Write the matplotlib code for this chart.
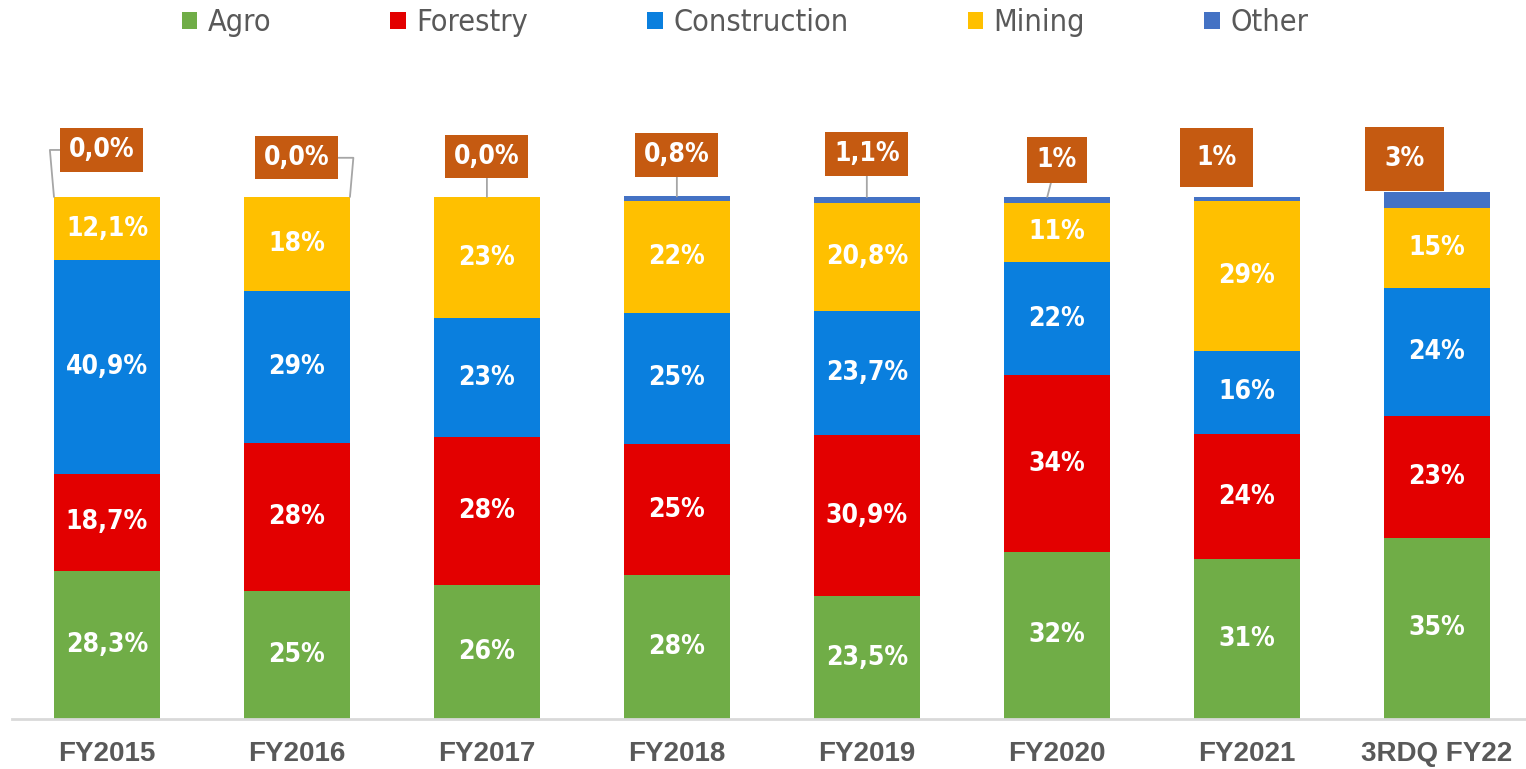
import matplotlib
matplotlib.use("Agg")
import matplotlib.pyplot as plt
import numpy as np

# categories and shares (%) per segment
periods = ["FY2015", "FY2016", "FY2017", "FY2018", "FY2019", "FY2020", "FY2021", "3RDQ FY22"]
agro = [28.3, 24.6, 25.7, 27.5, 23.5, 32.0, 30.6, 34.7]
forestry = [18.7, 28.3, 28.3, 25.2, 30.9, 33.8, 24.0, 23.4]
construction = [40.9, 29.1, 22.8, 25.1, 23.7, 21.7, 15.9, 24.4]
mining = [12.1, 18.0, 23.2, 21.5, 20.8, 11.4, 28.8, 15.3]
other = [0.0, 0.0, 0.0, 0.8, 1.1, 1.1, 0.7, 3.1]

# label texts as printed on the chart
agro_lbl = ["28,3%", "25%", "26%", "28%", "23,5%", "32%", "31%", "35%"]
forestry_lbl = ["18,7%", "28%", "28%", "25%", "30,9%", "34%", "24%", "23%"]
construction_lbl = ["40,9%", "29%", "23%", "25%", "23,7%", "22%", "16%", "24%"]
mining_lbl = ["12,1%", "18%", "23%", "22%", "20,8%", "11%", "29%", "15%"]
other_lbl = ["0,0%", "0,0%", "0,0%", "0,8%", "1,1%", "1%", "1%", "3%"]

series = [
    ("Agro", agro, agro_lbl, "#70AD47"),
    ("Forestry", forestry, forestry_lbl, "#E30000"),
    ("Construction", construction, construction_lbl, "#0A7FDE"),
    ("Mining", mining, mining_lbl, "#FFC000"),
    ("Other", other, None, "#4472C4"),
]

# callout boxes for "Other": offset from bar centre / top, box padding, leader anchor
box_dx = [-0.03, 0.0, 0.0, 0.0, 0.0, 0.0, -0.16, -0.17]
box_y = [109.0, 107.5, 107.7, 108.0, 108.2, 107.1, 107.5, 107.3]
box_pad = [0.33, 0.33, 0.33, 0.33, 0.33, 0.38, 0.62, 0.72]
leader = ["left", "right", "center", "center", "center", "slant", None, None]

GREY = "#595959"
W = 0.558
LBL = dict(family="DejaVu Sans", fontstretch="condensed", fontweight="bold", fontsize=19)

fig = plt.figure(figsize=(15.26, 7.69), dpi=100)
ax = fig.add_axes([12 / 1526, 50 / 769, 1514 / 1526, 639 / 769])

x = np.arange(len(periods))
bottom = np.zeros(len(periods))
for name, vals, lbls, col in series:
    vals = np.array(vals)
    ax.bar(x, vals, W, bottom=bottom, color=col, label=name, linewidth=0)
    if lbls is not None:
        for i in range(len(x)):
            ax.text(x[i], bottom[i] + vals[i] / 2, lbls[i], ha="center", va="center",
                    color="white", **LBL)
    bottom = bottom + vals

tops = bottom
line = dict(arrowstyle="-", color="#A6A6A6", lw=1.3, shrinkA=0, shrinkB=0)
for i in range(len(x)):
    kind = leader[i]
    arrow = None
    if kind == "left":
        xy = (x[i] - W / 2, tops[i])
        arrow = dict(line, connectionstyle="angle,angleA=0,angleB=95,rad=0")
    elif kind == "right":
        xy = (x[i] + W / 2, tops[i])
        arrow = dict(line, connectionstyle="angle,angleA=0,angleB=85,rad=0")
    elif kind == "slant":
        xy = (x[i] - 0.05, tops[i])
        arrow = dict(line)
    elif kind == "center":
        xy = (x[i], tops[i])
        arrow = dict(line)
    else:
        xy = (x[i] + box_dx[i], box_y[i])
    ax.annotate(other_lbl[i], xy=xy, xytext=(x[i] + box_dx[i], box_y[i]),
                ha="center", va="center", color="white", **LBL,
                bbox=dict(boxstyle="square,pad=%s" % box_pad[i], fc="#C55A11", ec="none"),
                arrowprops=arrow)

ax.set_xlim(-0.5, 7.47)
ax.set_ylim(0, 122.4)
ax.set_xticks(x)
ax.set_xticklabels(periods, fontsize=20, fontweight="bold", color=GREY,
                   family=["Liberation Sans", "DejaVu Sans"])
ax.tick_params(axis="x", length=0, pad=16)
ax.set_yticks([])
for s in ["top", "left", "right"]:
    ax.spines[s].set_visible(False)
ax.spines["bottom"].set_color("#D9D9D9")
ax.spines["bottom"].set_linewidth(2)

fig.legend(loc="upper center", bbox_to_anchor=(745 / 1526, 0.997), ncol=5, frameon=False,
           prop={"family": "DejaVu Sans", "stretch": "condensed", "size": 22}, labelcolor=GREY,
           handlelength=0.5, handleheight=0.5, handletextpad=0.35,
           columnspacing=3.9, borderaxespad=0.0, borderpad=0.2)

fig.savefig("out.png", dpi=100)
